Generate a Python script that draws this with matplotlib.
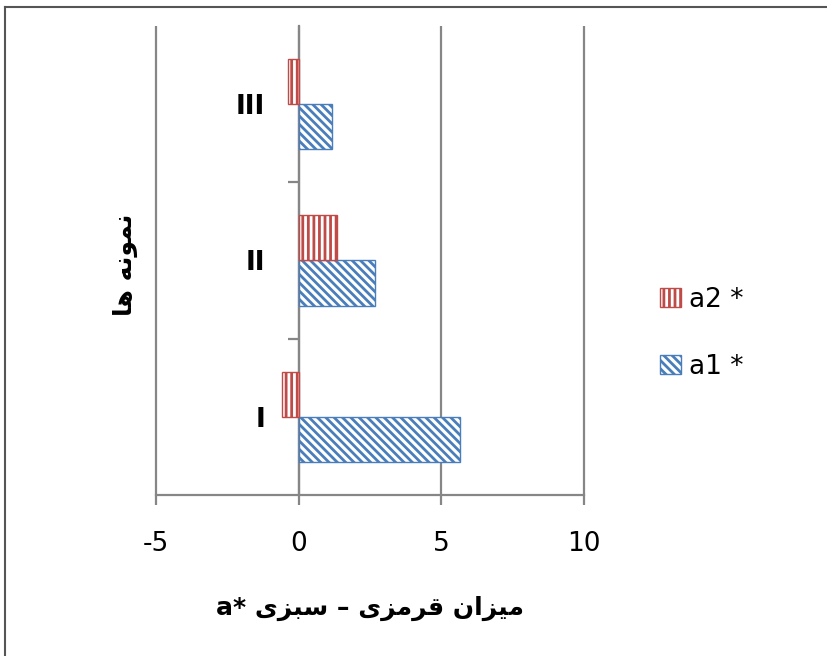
import matplotlib
matplotlib.use("Agg")
import matplotlib.pyplot as plt
from matplotlib.lines import Line2D
from matplotlib.patches import Patch
import numpy as np

# data
samples = ['I', 'II', 'III']
a1_values = [5.64, 2.69, 1.16]
a2_values = [-0.58, 1.35, -0.38]
series_names = ['a1 *', 'a2 *']
x_ticks = [-5, 0, 5, 10]
x_label = 'میزان قرمزی – سبزی *a'
y_label = 'نمونه ها'

# small persian shaper (matplotlib does no arabic shaping)
FORMS = {
    'ا': ('\uFE8D', '\uFE8E', None, None),
    'ب': ('\uFE8F', '\uFE90', '\uFE91', '\uFE92'),
    'ر': ('\uFEAD', '\uFEAE', None, None),
    'ز': ('\uFEAF', '\uFEB0', None, None),
    'س': ('\uFEB1', '\uFEB2', '\uFEB3', '\uFEB4'),
    'ق': ('\uFED5', '\uFED6', '\uFED7', '\uFED8'),
    'م': ('\uFEE1', '\uFEE2', '\uFEE3', '\uFEE4'),
    'ن': ('\uFEE5', '\uFEE6', '\uFEE7', '\uFEE8'),
    'ه': ('\uFEE9', '\uFEEA', '\uFEEB', '\uFEEC'),
    'و': ('\uFEED', '\uFEEE', None, None),
    'ی': ('\uFBFC', '\uFBFD', '\uFBFE', '\uFBFF'),
}
NO_LEFT_JOIN = set('ادذرزژو')


def shape(text):
    out = []
    for i, ch in enumerate(text):
        if ch not in FORMS:
            out.append(ch)
            continue
        prev = text[i - 1] if i > 0 else ''
        nxt = text[i + 1] if i + 1 < len(text) else ''
        join_prev = prev in FORMS and prev not in NO_LEFT_JOIN
        join_next = nxt in FORMS and ch not in NO_LEFT_JOIN
        iso, fin, ini, med = FORMS[ch]
        if join_prev and join_next:
            out.append(med)
        elif join_prev:
            out.append(fin)
        elif join_next:
            out.append(ini)
        else:
            out.append(iso)
    return ''.join(reversed(out))


plt.rcParams['font.family'] = ['DejaVu Sans']
plt.rcParams['hatch.linewidth'] = 2.0
plt.rcParams['axes.unicode_minus'] = False

blue = '#4A7EBB'
red = '#BE4B48'
grid_col = '#868686'
blue_hatch = '\\\\\\\\'
red_hatch = '|||'

fig = plt.figure(figsize=(8.27, 6.56), dpi=100)
ax = fig.add_axes([0.1886, 0.2454, 0.5175, 0.715])

y = np.arange(len(samples))
h = 0.29
ax.barh(y - h / 2, a1_values, height=h, color='white', edgecolor=blue,
        hatch=blue_hatch, linewidth=1, zorder=3)
ax.barh(y + h / 2, a2_values, height=h, color='white', edgecolor=red,
        hatch=red_hatch, linewidth=1, zorder=3)

ax.set_xlim(-5, 10)
ax.set_ylim(-0.5, 2.5)
ax.set_xticks(x_ticks)
ax.vlines(x_ticks, -0.5, 2.5, colors=grid_col, lw=1.6, clip_on=False, zorder=1)

for s in ['top', 'right']:
    ax.spines[s].set_visible(False)
ax.spines['left'].set_position(('data', 0))
ax.spines['left'].set_color(grid_col)
ax.spines['left'].set_linewidth(1.6)
ax.spines['bottom'].set_color(grid_col)
ax.spines['bottom'].set_linewidth(1.6)

ax.set_yticks(y)
ax.set_yticklabels(samples, fontsize=19, fontweight='bold')
ax.tick_params(axis='y', which='major', length=0, pad=24)
ax.set_yticks([0.5, 1.5], minor=True)
ax.tick_params(axis='y', which='minor', length=8, width=1.6, color=grid_col)
ax.tick_params(axis='x', length=7, width=1.6, color=grid_col, labelsize=19, pad=19)

ax.set_xlabel(shape(x_label), fontsize=18, fontweight='bold')
ax.xaxis.set_label_coords(0.5, -0.215)
ax.set_ylabel(shape(y_label), fontsize=18, fontweight='bold')
ax.yaxis.set_label_coords(-0.042, 0.49)

handles = [Patch(facecolor='white', edgecolor=red, hatch=red_hatch),
           Patch(facecolor='white', edgecolor=blue, hatch=blue_hatch)]
fig.legend(handles, [series_names[1], series_names[0]], loc='center left',
           bbox_to_anchor=(0.798, 0.492), frameon=False, fontsize=19,
           handlelength=0.8, handleheight=0.75, handletextpad=0.3,
           labelspacing=1.55, borderpad=0, borderaxespad=0)

# screenshot frame on top and left
fig.add_artist(Line2D([0.006, 1.0], [0.989, 0.989], color='#555555', lw=1.5))
fig.add_artist(Line2D([0.006, 0.006], [0.0, 0.989], color='#555555', lw=1.5))

fig.savefig('out.png', dpi=100)
